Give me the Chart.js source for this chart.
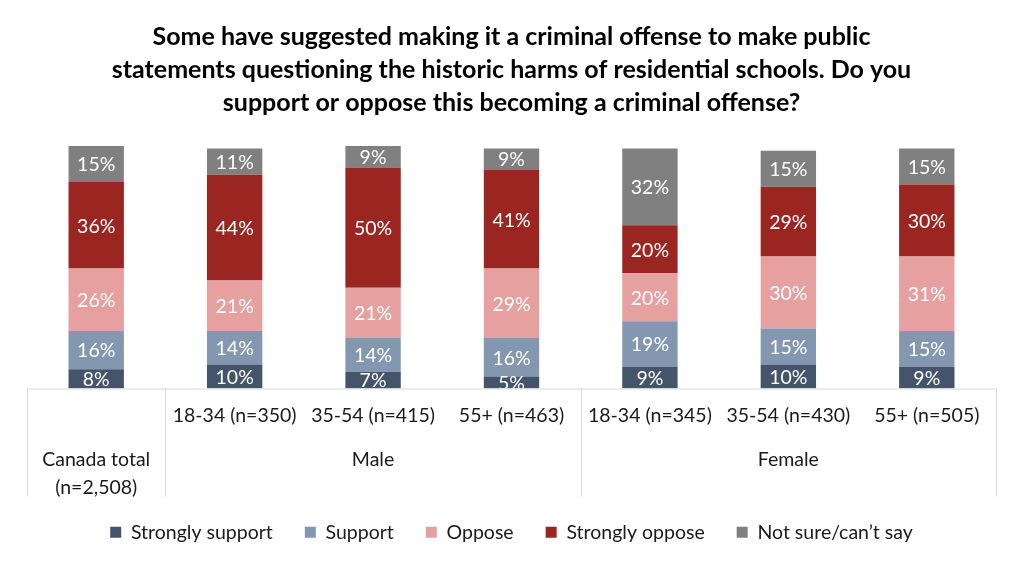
<!DOCTYPE html>
<html>
<head>
<meta charset="utf-8">
<script src="https://cdn.jsdelivr.net/npm/chart.js@4.4.1/dist/chart.umd.min.js"></script>
<style>
  html, body { margin: 0; padding: 0; background: #fff; }
  #wrap { width: 1024px; height: 567px; position: relative; }
</style>
</head>
<body>
<div id="wrap"><canvas id="c"></canvas></div>
<script>
const categories = ['Canada total', '18-34 (n=350)', '35-54 (n=415)', '55+ (n=463)', '18-34 (n=345)', '35-54 (n=430)', '55+ (n=505)'];
const groups = [
  { label: ['Canada total', '(n=2,508)'], from: 0, to: 0 },
  { label: ['Male'], from: 1, to: 3 },
  { label: ['Female'], from: 4, to: 6 }
];
const stronglySupport = [8, 10, 7, 5, 9, 10, 9];
const support         = [16, 14, 14, 16, 19, 15, 15];
const oppose          = [26, 21, 21, 29, 20, 30, 31];
const stronglyOppose  = [36, 44, 50, 41, 20, 29, 30];
const notSure         = [15, 11, 9, 9, 32, 15, 15];

const FONT = 'Lato, "Open Sans", sans-serif';

// value labels inside each segment
const segLabels = {
  id: 'segLabels',
  afterDatasetsDraw(chart) {
    const ctx = chart.ctx;
    ctx.save();
    ctx.font = '19.5px ' + FONT;
    ctx.fillStyle = '#fff';
    ctx.textAlign = 'center';
    ctx.textBaseline = 'middle';
    chart.data.datasets.forEach((ds, i) => {
      chart.getDatasetMeta(i).data.forEach((bar, j) => {
        const v = ds.data[j];
        const y = (bar.y + bar.base) / 2;
        ctx.fillText(v + '%', bar.x, y + 1);
      });
    });
    ctx.restore();
  }
};

// table-like category axis under the bars
const tableAxis = {
  id: 'tableAxis',
  afterDraw(chart) {
    const ctx = chart.ctx, a = chart.chartArea;
    const step = (a.right - a.left) / categories.length;
    const top = a.bottom, bottom = a.bottom + 108;
    ctx.save();
    ctx.strokeStyle = '#d9d9d9';
    ctx.lineWidth = 1;
    ctx.beginPath();
    ctx.moveTo(a.left, top + 0.5); ctx.lineTo(a.right, top + 0.5);
    [0, 1, 4, 7].forEach(k => {
      const x = Math.round(a.left + k * step) + 0.5;
      ctx.moveTo(x, top); ctx.lineTo(x, bottom);
    });
    ctx.stroke();
    ctx.fillStyle = '#1a1a1a';
    ctx.font = '19.5px ' + FONT;
    ctx.textAlign = 'center';
    ctx.textBaseline = 'middle';
    for (let k = 1; k < categories.length; k++) {
      ctx.fillText(categories[k], a.left + (k + 0.5) * step, top + 27);
    }
    groups.forEach(g => {
      const cx = a.left + ((g.from + g.to + 1) / 2) * step;
      g.label.forEach((t, li) => ctx.fillText(t, cx, top + 71 + li * 28));
    });
    ctx.restore();
  }
};

new Chart(document.getElementById('c'), {
  type: 'bar',
  data: {
    labels: categories,
    datasets: [
      { label: 'Strongly support', data: stronglySupport, backgroundColor: '#44546a' },
      { label: 'Support', data: support, backgroundColor: '#8497b0' },
      { label: 'Oppose', data: oppose, backgroundColor: '#e6a0a0' },
      { label: 'Strongly oppose', data: stronglyOppose, backgroundColor: '#9b2520' },
      { label: 'Not sure/can\u2019t say', data: notSure, backgroundColor: '#808080' }
    ]
  },
  options: {
    responsive: true, maintainAspectRatio: false, animation: false,
    layout: { padding: { left: 27, right: 28, top: 20, bottom: 15 } },
    barPercentage: 0.4, categoryPercentage: 1,
    plugins: {
      title: {
        display: true,
        text: ['Some have suggested making it a criminal offense to make public',
               'statements questioning the historic harms of residential schools. Do you',
               'support or oppose this becoming a criminal offense?'],
        color: '#000', font: { family: FONT, size: 25, weight: 'bold', lineHeight: 1.32 },
        padding: { top: 0, bottom: 27 }
      },
      legend: {
        position: 'bottom',
        labels: { color: '#1a1a1a', boxWidth: 11, boxHeight: 11, padding: 32, font: { family: FONT, size: 19.5 } }
      },
      tooltip: { enabled: false }
    },
    scales: {
      x: {
        stacked: true,
        grid: { display: false }, border: { display: false },
        ticks: { display: false },
        afterFit: s => { s.height = 102; }
      },
      y: { stacked: true, display: false, min: 0, max: 101 }
    }
  },
  plugins: [segLabels, tableAxis]
});
</script>
</body>
</html>
